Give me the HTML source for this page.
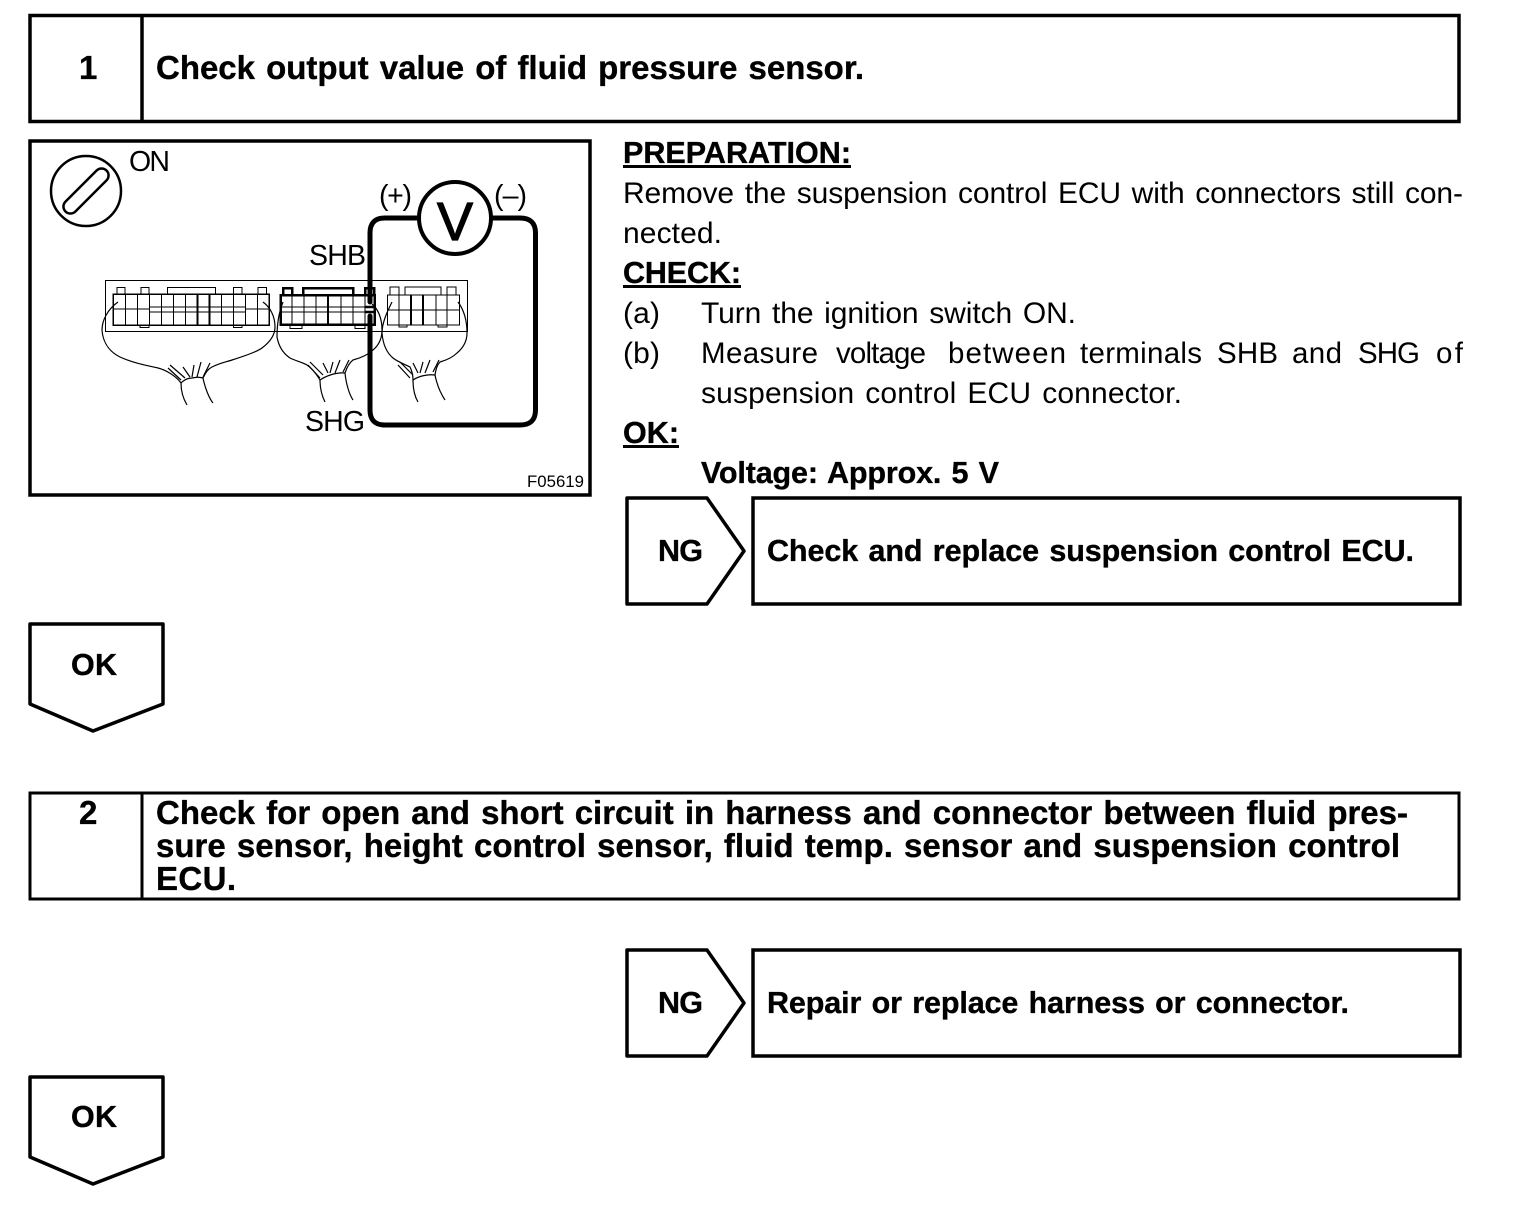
<!DOCTYPE html>
<html><head><meta charset="utf-8"><title>Check output value</title>
<style>
html,body{margin:0;padding:0;background:#fff;width:1520px;height:1226px;overflow:hidden}
svg{display:block}
text{font-family:"Liberation Sans",Arial,sans-serif;fill:#000}
.b{font-weight:700;font-size:33px;stroke:#000;stroke-width:.35px;word-spacing:2px}
.s{font-size:30.5px}
.n{font-size:30px;word-spacing:2.5px}
.w{font-size:29.5px;word-spacing:0}
.f{fill:none;stroke:#000}
.c{shape-rendering:crispEdges}
</style></head><body>
<svg width="1520" height="1226" viewBox="0 0 1520 1226" xmlns="http://www.w3.org/2000/svg">
<!-- Step 1 -->
<rect class="f" x="30" y="15.500" width="1429" height="106" stroke-width="3.500"/>
<line class="f" x1="142" y1="15" x2="142" y2="122" stroke-width="3.500"/>
<text class="b" x="79" y="79">1</text>
<text class="b" x="156" y="79" textLength="708" lengthAdjust="spacing">Check output value of fluid pressure sensor.</text>

<!-- Illustration frame -->
<rect class="f" x="30" y="141" width="560" height="354" stroke-width="3.500"/>
<circle class="f" cx="86" cy="191" r="35" stroke-width="2.500"/>
<rect class="f" x="-29" y="-7" width="58" height="14" rx="7" transform="translate(86,191) rotate(-45)" stroke-width="2.500"/>
<text x="129" y="171" style="font-size:28.500px" textLength="41">ON</text>
<text x="309" y="265" style="font-size:28.500px" textLength="57">SHB</text>
<text x="305" y="431" style="font-size:28.500px" textLength="60">SHG</text>
<text x="379" y="205" style="font-size:28.500px" textLength="33">(+)</text>
<text x="494" y="205" style="font-size:28.500px" textLength="33">(–)</text>
<text x="527" y="487" style="font-size:16.800px" textLength="57">F05619</text>

<!-- Connector outer -->
<path class="f c" d="M105.500 332V280.500H467.500V332M105 331.500H468" stroke-width="1"/>
<!-- Left connector -->
<g class="f c" stroke-width="1">
<rect x="113" y="294" width="156" height="31" stroke-width="1.500"/>
<path d="M113 309H149M245 309H269M149 307H245M149 312H245"/>
<path d="M125.500 294V325M137.500 294V325M149.500 294V325M161.500 294V325M173.500 294V325M185.500 294V325M221.500 294V325M233.500 294V325M245.500 294V325M257.500 294V325"/>
<path d="M197.500 294V325M209.500 294V325" stroke-width="2"/>
<path d="M117 294V287.500H125V294M141 294V287.500H149V294M167.500 294V287.500H215.500V294M233.500 294V287.500H242V294M258 294V287.500H266.500V294M140 325V327.500H149V325M233.500 325V327.500H242V325"/>
</g>
<!-- Middle connector -->
<g class="f c" stroke-width="1">
<rect x="280.500" y="295" width="94" height="29.500" stroke-width="2.500"/>
<path d="M280 307H375M280 312H375"/>
<path d="M292 295V325M304 295V325M316 295V325M341 295V325M353 295V325M365 295V325"/>
<path d="M328 295V325" stroke-width="2"/>
<path d="M283 295V288H292V295M303 295V288H353V295M365 295V288H374V295" stroke-width="2.500"/>
<path d="M290 325V328.500H302V325M355 325V328.500H365V325"/>
</g>
<!-- Right connector -->
<g class="f c" stroke-width="1">
<rect x="387.500" y="295" width="72" height="30"/>
<path d="M387 310H459M399 295V325M436 295V325M447 295V325"/>
<path d="M411 295V325M423 295V325" stroke-width="2"/>
<path d="M390 295V287H399V295M405 295V287H441V295M447 295V287H456V295M399 325V327H407V325M438 325V327H447V325"/>
</g>
<!-- Harnesses -->
<g class="f" stroke-width="1.200">
<path d="M118 302C108 309 102 320 102 330C103 345 112 353 120 357C135 364 150 366 158 368C166 370 176 376 181 383C185 379 189 378 192 378C196 377 200 377 203 378C206 372 208 369 212 367C220 363 226 362 232 360C248 355 258 351 262 348C270 342 275 335 275 327C275 316 270 307 263 302"/>
<path d="M181 383C181 392 184 400 187 405M203 378C205 388 209 398 213 403"/>
<path d="M168 368L181 380M170 365L185 378M183 367L190 377M194 365L192 377M201 362L197 377M210 363L203 377"/>
<path d="M283 302C279 312 277 325 277 337C279 348 284 354 290 358C296 361 302 362 307 365C313 369 317 375 320 380C326 376 336 372 345 373C347 367 349 363 353 360C361 358 369 354 373 350C379 345 382 338 382 330C382 318 378 309 372 304"/>
<path d="M320 380C320 388 322 396 325 402M345 373C346 383 349 394 353 400"/>
<path d="M308 365L320 378M310 362L323 375M323 363L328 373M333 362L330 373M340 360L335 373M349 360L343 372"/>
<path d="M392 302C387 312 382 323 382 333C383 345 387 353 393 358C398 362 404 364 410 367C412 371 413 376 413 380C419 376 428 374 435 375C436 369 437 365 440 362C447 360 453 357 457 353C463 348 467 341 467 333C467 320 464 310 458 302"/>
<path d="M413 380C413 390 415 397 418 402M435 375C437 385 441 394 445 400"/>
<path d="M398 365L410 378M400 362L413 375M413 363L418 373M423 362L420 373M430 360L425 373M439 360L433 372"/>
</g>
<!-- Meter wiring -->
<path class="f" d="M370 302V233Q370 218 385 218H420M491 218H520Q535.500 218 535.500 233V410Q535.500 425 520 425H385Q370 425 370 410V316" stroke-width="5" stroke-linecap="round"/>
<circle cx="455" cy="218" r="36" fill="#fff" stroke="#000" stroke-width="4"/>
<text x="455" y="240" text-anchor="middle" style="font-size:54px;stroke:#000;stroke-width:1.200px">V</text>
<path d="M365 307H375M365 312H375" stroke="#000" stroke-width="2.500"/>

<!-- Procedure text -->
<text class="b s" x="623" y="163" textLength="228">PREPARATION:</text>
<rect x="623" y="165" width="228" height="3"/>
<text class="n" x="623" y="203" textLength="840">Remove the suspension control ECU with connectors still con-</text>
<text class="n" x="623" y="243" textLength="99">nected.</text>
<text class="b s" x="623" y="283" textLength="118">CHECK:</text>
<rect x="623" y="285" width="118" height="3"/>
<text class="n" x="623" y="323" textLength="37">(a)</text>
<text class="n" x="701" y="323" textLength="375">Turn the ignition switch ON.</text>
<text class="n" x="623" y="363" textLength="37">(b)</text>
<text class="w" x="701" y="363" textLength="117">Measure</text>
<text class="w" x="836" y="363" textLength="90">voltage</text>
<text class="w" x="948" y="363" textLength="118">between</text>
<text class="w" x="1080" y="363" textLength="122">terminals</text>
<text class="w" x="1217" y="363" textLength="61">SHB</text>
<text class="w" x="1292" y="363" textLength="50">and</text>
<text class="w" x="1358" y="363" textLength="62">SHG</text>
<text class="w" x="1436" y="363" textLength="27">of</text>
<text class="n" x="701" y="403" textLength="481">suspension control ECU connector.</text>
<text class="b s" x="623" y="443" textLength="56">OK:</text>
<rect x="623" y="445" width="56" height="3"/>
<text class="b s" x="701" y="483" textLength="298">Voltage: Approx. 5 V</text>

<!-- NG 1 -->
<path class="f" d="M627 498H707L744 551L707 604H627Z" stroke-width="3.500" stroke-linejoin="round"/>
<text class="b s" x="658" y="561" textLength="45">NG</text>
<rect class="f" x="753" y="498" width="707" height="106" stroke-width="3.500"/>
<text class="b s" x="767" y="561" textLength="647">Check and replace suspension control ECU.</text>

<!-- OK 1 -->
<path class="f" d="M30 624H163V704L93 731L30 704Z" stroke-width="3.500" stroke-linejoin="round"/>
<text class="b s" x="71" y="675" textLength="46">OK</text>

<!-- Step 2 -->
<rect class="f" x="30" y="793" width="1429" height="106" stroke-width="3"/>
<line class="f" x1="142" y1="793" x2="142" y2="899" stroke-width="3"/>
<text class="b" x="79" y="824">2</text>
<text class="b" x="156" y="824" textLength="1252">Check for open and short circuit in harness and connector between fluid pres-</text>
<text class="b" x="156" y="857" textLength="1244">sure sensor, height control sensor, fluid temp. sensor and suspension control</text>
<text class="b" x="156" y="890" textLength="80">ECU.</text>

<!-- NG 2 -->
<path class="f" d="M627 950H707L744 1003L707 1056H627Z" stroke-width="3.500" stroke-linejoin="round"/>
<text class="b s" x="658" y="1013" textLength="45">NG</text>
<rect class="f" x="753" y="950" width="707" height="106" stroke-width="3.500"/>
<text class="b s" x="767" y="1013" textLength="582">Repair or replace harness or connector.</text>

<!-- OK 2 -->
<path class="f" d="M30 1077H163V1157L93 1184L30 1157Z" stroke-width="3.500" stroke-linejoin="round"/>
<text class="b s" x="71" y="1127" textLength="46">OK</text>
</svg>
</body></html>
